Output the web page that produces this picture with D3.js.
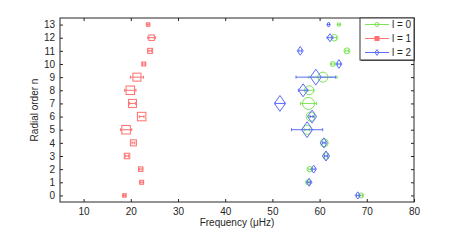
<!DOCTYPE html>
<html>
<head>
<meta charset="utf-8">
<script src="https://cdn.jsdelivr.net/npm/d3@7"></script>
<style>
  body { margin: 0; background: #fff; }
  text { font-family: "Liberation Sans", Arial, sans-serif; fill: #262626; }
</style>
</head>
<body>
<div id="chart"></div>
<script>
// radial orders
var orders = [0, 1, 2, 3, 4, 5, 6, 7, 8, 9, 10, 11, 12, 13];
// l = 0 (green circles)
var freqL0 = [68.8, 57.6, 57.9, 61.35, 61.0, 57.35, 58.1, 57.65, 57.8, 60.7, 62.8, 65.8, 63.1, 64.1];
var errL0  = [0.3, 0.3, 0.3, 0.3, 0.3, 0.5, 0.4, 1.7, 1.0, 3.0, 0.3, 0.3, 0.5, 0.3];
var ampL0  = [5, 5.5, 5.5, 6.5, 8, 9, 9, 12, 9, 10, 5, 6, 6.5, 3.5];
// l = 1 (red squares)
var freqL1 = [18.65, 22.3, 22.1, 19.2, 20.55, 19.0, 22.3, 20.35, 19.9, 21.3, 22.75, 24.1, 24.4, 23.67];
var errL1  = [0.2, 0.3, 0.3, 0.3, 0.3, 1.2, 0.5, 0.6, 1.2, 1.4, 0.3, 0.3, 0.8, 0.2];
var ampL1  = [3.5, 4, 4.5, 5.5, 6, 8.5, 8.5, 8, 8.5, 8, 4, 5, 5.5, 3.5];
// l = 2 (blue diamonds)
var freqL2 = [68.1, 57.8, 58.75, 61.35, 60.9, 57.35, 58.4, 51.6, 56.5, 59.2, 64.1, 55.9, 62.2, 61.9];
var errL2  = [0.3, 0.3, 0.3, 0.3, 0.3, 3.3, 0.4, 1.0, 1.0, 4.2, 0.3, 0.3, 0.6, 0.2];
var ampL2  = [5, 5.5, 5.5, 7, 7, 11, 9, 11, 9, 11, 6, 6, 5.5, 3.5];

var xTicks = [10, 20, 30, 40, 50, 60, 70, 80];
var yTicks = d3.range(0, 14);

var W = 458, H = 241;
var margin = {top: 18, right: 44, bottom: 39, left: 60};
var width = W - margin.left - margin.right,
    height = H - margin.top - margin.bottom;

var svg = d3.select("#chart").append("svg")
    .attr("width", W)
    .attr("height", H);
var g = svg.append("g")
    .attr("transform", "translate(" + margin.left + "," + margin.top + ")");

var x = d3.scaleLinear().domain([5, 80]).range([0, width]);
var y = d3.scaleLinear().domain([-0.5, 13.5]).range([height, 0]);

// 坐标轴
function styleAxis(sel) {
    sel.select(".domain").remove();
    sel.selectAll("line").attr("stroke", "#262626");
    sel.selectAll("text").style("font-size", "10px");
}
g.append("g").attr("transform", "translate(0," + height + ")")
    .call(d3.axisBottom(x).tickValues(xTicks).tickSize(-3).tickPadding(6))
    .call(styleAxis);
g.append("g")
    .call(d3.axisTop(x).tickValues(xTicks).tickSize(-3).tickFormat(""))
    .call(styleAxis);
g.append("g")
    .call(d3.axisLeft(y).tickValues(yTicks).tickSize(-3).tickPadding(5))
    .call(styleAxis);
g.append("g").attr("transform", "translate(" + width + ",0)")
    .call(d3.axisRight(y).tickValues(yTicks).tickSize(-3).tickFormat(""))
    .call(styleAxis);

g.append("rect")
    .attr("width", width).attr("height", height)
    .attr("fill", "none").attr("stroke", "#262626").attr("stroke-width", 1);

svg.append("text")
    .attr("x", margin.left + width / 2).attr("y", 226)
    .attr("text-anchor", "middle").style("font-size", "10px")
    .text("Frequency (\u03bcHz)");
svg.append("text")
    .attr("transform", "translate(38," + (margin.top + height / 2) + ") rotate(-90)")
    .attr("text-anchor", "middle").style("font-size", "10px")
    .text("Radial order n");

var series = [
    {name: "l = 0", freq: freqL0, err: errL0, amp: ampL0, color: "#7fe35a", shape: "circle"},
    {name: "l = 1", freq: freqL1, err: errL1, amp: ampL1, color: "#ff6f6f", shape: "square"},
    {name: "l = 2", freq: freqL2, err: errL2, amp: ampL2, color: "#5b6bff", shape: "diamond"}
];

function drawMarker(sel, shape, s, color) {
    if (shape === "circle") {
        sel.append("circle").attr("r", s / 2);
    } else if (shape === "square") {
        sel.append("rect").attr("x", -s / 2).attr("y", -s / 2)
            .attr("width", s).attr("height", s);
    } else {
        var h = s / 2, v = s * 0.72;
        sel.append("path").attr("d", "M0," + (-v) + "L" + h + ",0L0," + v + "L" + (-h) + ",0Z");
    }
    sel.selectAll("circle,rect,path")
        .attr("fill", "none").attr("stroke", color).attr("stroke-width", 1);
}

series.forEach(function (s) {
    var layer = g.append("g");
    orders.forEach(function (n, i) {
        var cx = x(s.freq[i]), cy = y(n);
        var x0 = x(s.freq[i] - s.err[i]), x1 = x(s.freq[i] + s.err[i]);
        var pt = layer.append("g");
        pt.append("line").attr("x1", x0).attr("x2", x1).attr("y1", cy).attr("y2", cy)
            .attr("stroke", s.color);
        [x0, x1].forEach(function (xe) {
            pt.append("line").attr("x1", xe).attr("x2", xe)
                .attr("y1", cy - 1.5).attr("y2", cy + 1.5).attr("stroke", s.color);
        });
        var m = pt.append("g").attr("transform", "translate(" + cx + "," + cy + ")");
        drawMarker(m, s.shape, s.amp[i], s.color);
    });
});

// 图例
var legend = svg.append("g").attr("transform", "translate(360,18)");
legend.append("rect").attr("x", 1).attr("y", 1).attr("width", 54).attr("height", 42)
    .attr("fill", "#555");
legend.append("rect").attr("width", 54).attr("height", 42)
    .attr("fill", "#fff").attr("stroke", "#333").attr("stroke-width", 1);
var item = legend.selectAll(".legendItem")
    .data(series)
    .enter().append("g")
    .attr("class", "legendItem")
    .attr("transform", function (d, i) { return "translate(0," + (6.5 + i * 14) + ")"; });
item.append("line").attr("x1", 5).attr("x2", 29).attr("stroke", function (d) { return d.color; });
item.each(function (d) {
    var m = d3.select(this).append("g").attr("transform", "translate(17,0)");
    drawMarker(m, d.shape, 4, d.color);
    m.selectAll("rect").attr("fill", d.color);
});
item.append("text").attr("x", 32).attr("y", 3.5).style("font-size", "10px")
    .text(function (d) { return d.name; });
</script>
</body>
</html>
